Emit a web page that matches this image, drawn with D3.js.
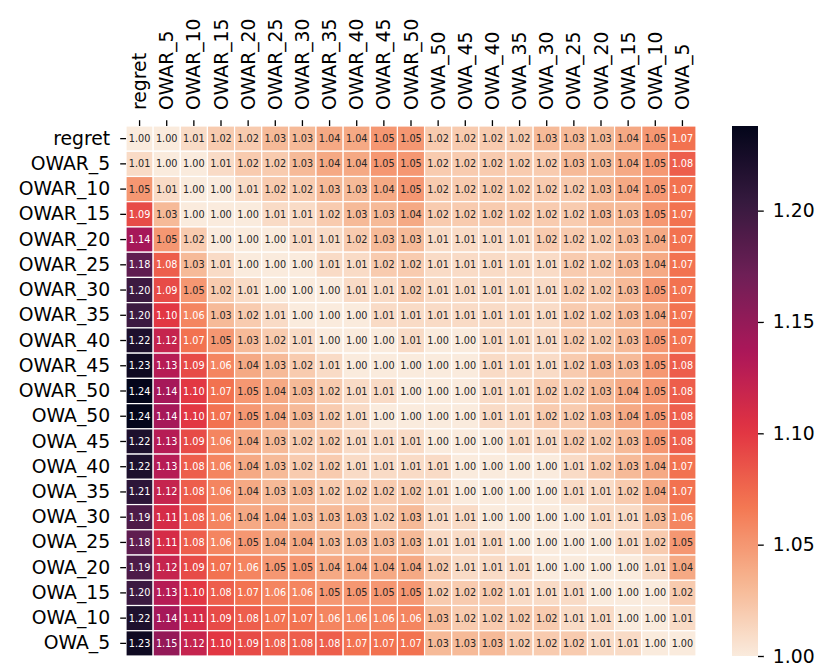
<!DOCTYPE html>
<html>
<head>
<meta charset="utf-8">
<script src="https://cdn.jsdelivr.net/npm/d3@7"></script>
<style>
  body { margin: 0; background: #fff; }
  text { font-family: "DejaVu Sans", sans-serif; }
</style>
</head>
<body>
<svg id="chart" width="831" height="671"></svg>
<script>
// row / column labels (same order on both axes)
const labels = ["regret", "OWAR_5", "OWAR_10", "OWAR_15", "OWAR_20", "OWAR_25", "OWAR_30",
  "OWAR_35", "OWAR_40", "OWAR_45", "OWAR_50", "OWA_50", "OWA_45", "OWA_40", "OWA_35",
  "OWA_30", "OWA_25", "OWA_20", "OWA_15", "OWA_10", "OWA_5"];

// one array per row of the heatmap
const row_regret = [1.00,1.00,1.01,1.02,1.02,1.03,1.03,1.04,1.04,1.05,1.05,1.02,1.02,1.02,1.02,1.03,1.03,1.03,1.04,1.05,1.07];
const row_owar5  = [1.01,1.00,1.00,1.01,1.02,1.02,1.03,1.04,1.04,1.05,1.05,1.02,1.02,1.02,1.02,1.02,1.03,1.03,1.04,1.05,1.08];
const row_owar10 = [1.05,1.01,1.00,1.00,1.01,1.02,1.02,1.03,1.03,1.04,1.05,1.02,1.02,1.02,1.02,1.02,1.02,1.03,1.04,1.05,1.07];
const row_owar15 = [1.09,1.03,1.00,1.00,1.00,1.01,1.01,1.02,1.03,1.03,1.04,1.02,1.02,1.02,1.02,1.02,1.02,1.03,1.03,1.05,1.07];
const row_owar20 = [1.14,1.05,1.02,1.00,1.00,1.00,1.01,1.01,1.02,1.03,1.03,1.01,1.01,1.01,1.01,1.02,1.02,1.02,1.03,1.04,1.07];
const row_owar25 = [1.18,1.08,1.03,1.01,1.00,1.00,1.00,1.01,1.01,1.02,1.02,1.01,1.01,1.01,1.01,1.01,1.02,1.02,1.03,1.04,1.07];
const row_owar30 = [1.20,1.09,1.05,1.02,1.01,1.00,1.00,1.00,1.01,1.01,1.02,1.01,1.01,1.01,1.01,1.01,1.02,1.02,1.03,1.05,1.07];
const row_owar35 = [1.20,1.10,1.06,1.03,1.02,1.01,1.00,1.00,1.00,1.01,1.01,1.01,1.01,1.01,1.01,1.01,1.02,1.02,1.03,1.04,1.07];
const row_owar40 = [1.22,1.12,1.07,1.05,1.03,1.02,1.01,1.00,1.00,1.00,1.01,1.00,1.00,1.01,1.01,1.01,1.02,1.02,1.03,1.05,1.07];
const row_owar45 = [1.23,1.13,1.09,1.06,1.04,1.03,1.02,1.01,1.00,1.00,1.00,1.00,1.00,1.01,1.01,1.01,1.02,1.03,1.03,1.05,1.08];
const row_owar50 = [1.24,1.14,1.10,1.07,1.05,1.04,1.03,1.02,1.01,1.01,1.00,1.00,1.00,1.01,1.01,1.02,1.02,1.03,1.04,1.05,1.08];
const row_owa50  = [1.24,1.14,1.10,1.07,1.05,1.04,1.03,1.02,1.01,1.00,1.00,1.00,1.00,1.01,1.01,1.02,1.02,1.03,1.04,1.05,1.08];
const row_owa45  = [1.22,1.13,1.09,1.06,1.04,1.03,1.02,1.02,1.01,1.01,1.01,1.00,1.00,1.00,1.01,1.01,1.02,1.02,1.03,1.05,1.08];
const row_owa40  = [1.22,1.13,1.08,1.06,1.04,1.03,1.02,1.02,1.01,1.01,1.01,1.01,1.00,1.00,1.00,1.00,1.01,1.02,1.03,1.04,1.07];
const row_owa35  = [1.21,1.12,1.08,1.06,1.04,1.03,1.03,1.02,1.02,1.02,1.02,1.01,1.00,1.00,1.00,1.00,1.01,1.01,1.02,1.04,1.07];
const row_owa30  = [1.19,1.11,1.08,1.06,1.04,1.04,1.03,1.03,1.03,1.02,1.03,1.01,1.01,1.00,1.00,1.00,1.00,1.01,1.01,1.03,1.06];
const row_owa25  = [1.18,1.11,1.08,1.06,1.05,1.04,1.04,1.03,1.03,1.03,1.03,1.01,1.01,1.01,1.00,1.00,1.00,1.00,1.01,1.02,1.05];
const row_owa20  = [1.19,1.12,1.09,1.07,1.06,1.05,1.05,1.04,1.04,1.04,1.04,1.02,1.01,1.01,1.01,1.00,1.00,1.00,1.00,1.01,1.04];
const row_owa15  = [1.20,1.13,1.10,1.08,1.07,1.06,1.06,1.05,1.05,1.05,1.05,1.02,1.02,1.02,1.01,1.01,1.01,1.00,1.00,1.00,1.02];
const row_owa10  = [1.22,1.14,1.11,1.09,1.08,1.07,1.07,1.06,1.06,1.06,1.06,1.03,1.02,1.02,1.02,1.02,1.01,1.01,1.00,1.00,1.01];
const row_owa5   = [1.23,1.15,1.12,1.10,1.09,1.08,1.08,1.08,1.07,1.07,1.07,1.03,1.03,1.03,1.02,1.02,1.02,1.01,1.01,1.00,1.00];

const matrix = [row_regret, row_owar5, row_owar10, row_owar15, row_owar20, row_owar25, row_owar30,
  row_owar35, row_owar40, row_owar45, row_owar50, row_owa50, row_owa45, row_owa40, row_owa35,
  row_owa30, row_owa25, row_owa20, row_owa15, row_owa10, row_owa5];

// colorbar range and ticks
const v_min = 1.00;
const v_max = 1.238;
const cbar_ticks = [1.00, 1.05, 1.10, 1.15, 1.20];

// rocket colormap, reversed (light at low values)
const rocket = ["#faebdd", "#f6b48f", "#f37651", "#e13342", "#ad1759", "#701f57", "#35193e", "#03051a"];

const svg = d3.select("#chart");
const m_left = 126, m_top = 126, m_right = 696, m_bottom = 656;
const label_size = "18.8px";

const x = d3.scaleBand().domain(labels).range([m_left, m_right]);
const y = d3.scaleBand().domain(labels).range([m_top, m_bottom]);

const color = d3.scaleLinear()
  .domain(d3.range(rocket.length).map(i => v_min + (v_max - v_min) * i / (rocket.length - 1)))
  .range(rocket)
  .interpolate(d3.interpolateRgb)
  .clamp(true);

// seaborn picks text colour from the cell luminance
const luminance = c => {
  const rgb = d3.rgb(c);
  const lin = v => { v /= 255; return v <= 0.03928 ? v / 12.92 : Math.pow((v + 0.055) / 1.055, 2.4); };
  return 0.2126 * lin(rgb.r) + 0.7152 * lin(rgb.g) + 0.0722 * lin(rgb.b);
};

const cells = [];
matrix.forEach((row, i) => row.forEach((v, j) => cells.push({ r: labels[i], c: labels[j], v: v })));

svg.append("g").selectAll("rect")
  .data(cells)
  .enter().append("rect")
  .attr("x", d => x(d.c))
  .attr("y", d => y(d.r))
  .attr("width", x.bandwidth())
  .attr("height", y.bandwidth())
  .attr("fill", d => color(d.v))
  .attr("stroke", "#fff")
  .attr("stroke-width", 1.2);

svg.append("g").selectAll("text")
  .data(cells)
  .enter().append("text")
  .attr("x", d => x(d.c) + x.bandwidth() / 2)
  .attr("y", d => y(d.r) + y.bandwidth() / 2)
  .attr("text-anchor", "middle")
  .attr("dominant-baseline", "central")
  .attr("font-size", "9.7px")
  .attr("fill", d => luminance(color(d.v)) > 0.408 ? "#262626" : "#fff")
  .text(d => d.v.toFixed(2));

// axes: left row labels and top column labels
const yAxis = d3.axisLeft(y).tickSize(5.8).tickPadding(10);
const gy = svg.append("g").attr("transform", `translate(${m_left},0)`).call(yAxis);
gy.select(".domain").remove();
gy.selectAll("line").attr("stroke", "#000").attr("stroke-width", 1.3);
gy.selectAll("text").attr("font-size", label_size).attr("fill", "#000")
  .style("font-family", "'DejaVu Sans', sans-serif");

const xAxis = d3.axisTop(x).tickSize(5.8).tickPadding(5);
const gx = svg.append("g").attr("transform", `translate(0,${m_top})`).call(xAxis);
gx.select(".domain").remove();
gx.selectAll("line").attr("stroke", "#000").attr("stroke-width", 1.3);
gx.selectAll("text")
  .attr("font-size", label_size).attr("fill", "#000")
  .style("font-family", "'DejaVu Sans', sans-serif")
  .attr("transform", "rotate(-90)")
  .attr("x", 16).attr("y", 0).attr("dy", "0.35em")
  .attr("text-anchor", "start");

// colorbar
const cbX = 732, cbW = 26;
const cbScale = d3.scaleLinear().domain([v_min, v_max]).range([m_bottom, m_top]);
const defs = svg.append("defs");
const grad = defs.append("linearGradient").attr("id", "cbar")
  .attr("x1", 0).attr("y1", 1).attr("x2", 0).attr("y2", 0);
d3.range(0, 1.0001, 0.02).forEach(t => {
  grad.append("stop").attr("offset", t).attr("stop-color", color(v_min + t * (v_max - v_min)));
});
svg.append("rect")
  .attr("x", cbX).attr("y", m_top)
  .attr("width", cbW).attr("height", m_bottom - m_top)
  .attr("fill", "url(#cbar)");

const cAxis = d3.axisRight(cbScale).tickValues(cbar_ticks).tickFormat(d3.format(".2f")).tickSize(5.8).tickPadding(9);
const gc = svg.append("g").attr("transform", `translate(${cbX + cbW},0)`).call(cAxis);
gc.select(".domain").remove();
gc.selectAll("line").attr("stroke", "#000").attr("stroke-width", 1.3);
gc.selectAll("text").attr("font-size", label_size).attr("fill", "#000")
  .style("font-family", "'DejaVu Sans', sans-serif");
</script>
</body>
</html>
